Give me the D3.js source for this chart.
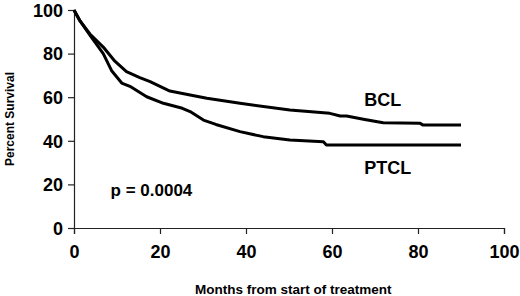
<!DOCTYPE html>
<html>
<head>
<meta charset="utf-8">
<script src="https://cdn.jsdelivr.net/npm/d3@7"></script>
<style>
  body { margin: 0; background: #fff; }
  svg { display: block; font-family: Arial, "Liberation Sans", sans-serif; }
</style>
</head>
<body>
<svg id="chart"></svg>
<script>
// Kaplan-Meier curves (months, percent surviving)
const bclMonths = [0, 1.4, 3.7, 6.8, 9.5, 12.2, 15.3, 17.7, 22.3, 27, 30.9, 38.6, 50.2, 59.5, 61.9, 63.4, 67.3, 71.9, 80.5, 81.2, 90];
const bclSurvival = [100, 95, 89, 83, 76.5, 71.7, 69, 67.1, 62.8, 61, 59.5, 57.2, 54.1, 52.6, 51.4, 51.4, 49.9, 48.3, 48, 47.2, 47.2];

const ptclMonths = [0, 1.4, 3.7, 6.8, 8.8, 11.1, 13, 16.9, 20.8, 25.2, 27, 30.1, 33, 38.6, 44, 50.2, 58, 58.7, 90];
const ptclSurvival = [100, 95, 88.5, 80, 72, 66.5, 65, 60.2, 57.2, 54.9, 53.4, 49.5, 47.5, 44.2, 41.9, 40.4, 39.6, 38.1, 38.1];

const xTicks = [0, 20, 40, 60, 80, 100];
const yTicks = [0, 20, 40, 60, 80, 100];

const series = [
    { name: "BCL", months: bclMonths, values: bclSurvival, labelAt: [67.5, 56] },
    { name: "PTCL", months: ptclMonths, values: ptclSurvival, labelAt: [67.5, 25] }
];

const margin = { top: 10, right: 16, bottom: 68, left: 74 };
const width = 520 - margin.left - margin.right;
const height = 296 - margin.top - margin.bottom;

const svg = d3.select("#chart")
    .attr("width", width + margin.left + margin.right)
    .attr("height", height + margin.top + margin.bottom);

const g = svg.append("g")
    .attr("transform", `translate(${margin.left},${margin.top})`);

const x = d3.scaleLinear().domain([0, 100]).range([0, width]);
const y = d3.scaleLinear().domain([0, 100]).range([height, 0]);

// axes
const xAxis = g.append("g")
    .attr("transform", `translate(0,${height})`)
    .call(d3.axisBottom(x).tickValues(xTicks).tickSize(6).tickPadding(11));

const yAxis = g.append("g")
    .call(d3.axisLeft(y).tickValues(yTicks).tickSize(6).tickPadding(5));

[xAxis, yAxis].forEach(ax => {
    ax.select(".domain").attr("stroke", "#222").attr("stroke-width", 1.2);
    ax.selectAll(".tick line").attr("stroke", "#222").attr("stroke-width", 1.2);
    ax.selectAll(".tick text")
        .attr("fill", "#000")
        .style("font-size", "18px")
        .style("font-weight", "bold")
        .style("font-family", "Arial, 'Liberation Sans', sans-serif");
});
xAxis.selectAll(".tick text").attr("dy", "0.71em");
yAxis.selectAll(".tick text").attr("dy", "0.35em");

// survival lines
const line = d3.line()
    .x(d => x(d[0]))
    .y(d => y(d[1]));

series.forEach(s => {
    g.append("path")
        .datum(s.months.map((m, i) => [m, s.values[i]]))
        .attr("fill", "none")
        .attr("stroke", "#000")
        .attr("stroke-width", 3)
        .attr("stroke-linejoin", "round")
        .attr("d", line);

    g.append("text")
        .attr("x", x(s.labelAt[0]))
        .attr("y", y(s.labelAt[1]))
        .style("font-size", "18px")
        .style("font-weight", "bold")
        .text(s.name);
});

g.append("text")
    .attr("x", x(8.5))
    .attr("y", y(14.5))
    .style("font-size", "17px")
    .style("font-weight", "bold")
    .text("p = 0.0004");

// axis titles
g.append("text")
    .attr("x", x(51))
    .attr("y", height + 66)
    .attr("text-anchor", "middle")
    .style("font-size", "13.5px")
    .style("font-weight", "bold")
    .text("Months from start of treatment");

g.append("text")
    .attr("transform", "rotate(-90)")
    .attr("x", -y(50))
    .attr("y", -margin.left + 14)
    .attr("text-anchor", "middle")
    .style("font-size", "12px")
    .style("font-weight", "bold")
    .text("Percent Survival");
</script>
</body>
</html>
